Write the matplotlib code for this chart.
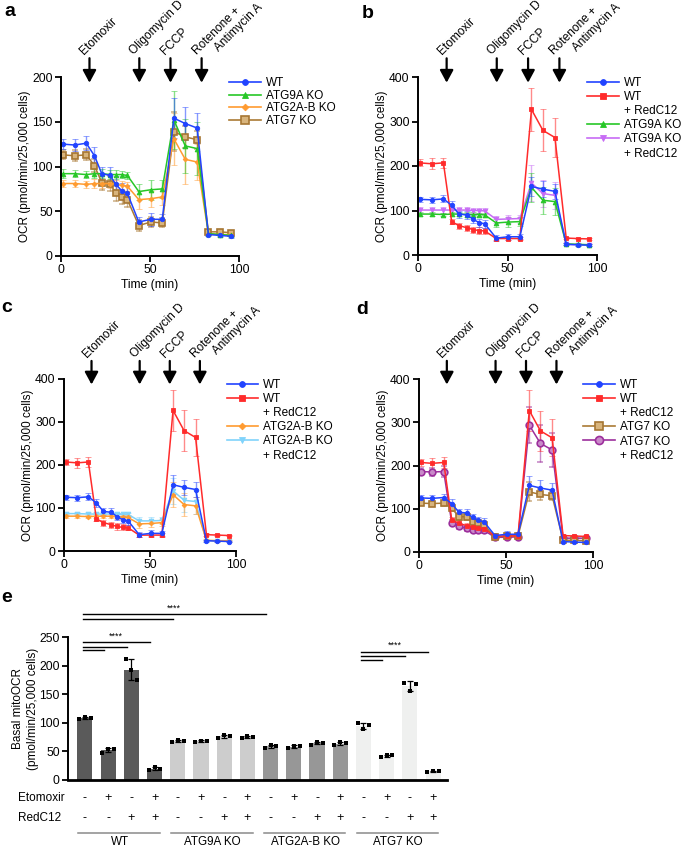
import numpy as np
import matplotlib
matplotlib.use('Agg')
import matplotlib.pyplot as plt
from matplotlib.lines import Line2D
from matplotlib.colors import to_rgba
from matplotlib.transforms import offset_copy, blended_transform_factory

plt.rcParams['font.family'] = ['Liberation Sans', 'DejaVu Sans']

# ---------------- data ----------------
time_min = [1.1, 7.6, 14.2, 18.8, 22.9, 27.6, 30.8, 34.1, 37.3,
            43.7, 50.4, 56.9, 63.4, 69.8, 76.5, 82.8, 89.2, 95.7]

wt_mean = [125, 124, 126, 112, 92, 90, 80, 73, 70, 38, 41, 41, 154, 148, 143, 24, 23, 22]
wt_sd = [6, 7, 8, 10, 8, 9, 9, 9, 9, 6, 7, 6, 22, 18, 17, 2, 2, 2]

wt_red_mean = [207, 205, 207, 75, 66, 61, 57, 55, 54, 37, 37, 37, 327, 280, 264, 38, 37, 36]
wt_red_sd = [8, 12, 12, 6, 7, 7, 7, 7, 6, 4, 4, 4, 48, 47, 43, 3, 2, 2]

atg9a_mean = [92, 92, 91, 92, 92, 91, 91, 91, 90, 72, 74, 75, 152, 123, 120, 25, 24, 23]
atg9a_sd = [5, 4, 4, 5, 5, 5, 5, 4, 4, 9, 11, 10, 32, 30, 30, 2, 2, 2]

atg9a_red_mean = [101, 101, 101, 101, 101, 101, 100, 100, 99, 80, 81, 82, 162, 138, 134, 24, 23, 23]
atg9a_red_sd = [6, 6, 6, 6, 6, 6, 6, 6, 6, 8, 9, 9, 40, 30, 30, 2, 2, 2]

atg2ab_mean = [81, 81, 80, 81, 81, 81, 80, 79, 78, 63, 64, 66, 131, 108, 105, 25, 24, 24]
atg2ab_sd = [4, 4, 4, 5, 5, 5, 5, 5, 5, 10, 9, 9, 29, 27, 20, 2, 2, 2]

atg2ab_red_mean = [87, 87, 86, 86, 86, 86, 85, 85, 85, 70, 70, 71, 140, 118, 115, 24, 24, 23]
atg2ab_red_sd = [4, 4, 4, 4, 4, 4, 4, 4, 4, 8, 8, 8, 30, 28, 28, 2, 2, 2]

atg7_mean = [113, 112, 113, 101, 82, 81, 70, 66, 63, 34, 38, 37, 139, 133, 130, 27, 27, 26]
atg7_sd = [5, 6, 6, 7, 8, 8, 8, 8, 8, 6, 6, 5, 22, 12, 10, 2, 2, 2]

atg7_red_mean = [186, 185, 186, 68, 59, 55, 52, 50, 50, 34, 34, 35, 293, 251, 236, 32, 32, 32]
atg7_red_sd = [8, 10, 12, 5, 6, 6, 6, 6, 6, 4, 4, 4, 42, 42, 40, 3, 3, 3]

drug_names = ['Etomoxir', 'Oligomycin D', 'FCCP', 'Rotenone +']
drug_second_line = ['', '', '', 'Antimycin A']
drug_times = [16, 44, 61.5, 79]

groups = ['WT', 'ATG9A KO', 'ATG2A-B KO', 'ATG7 KO']
etomoxir_flags = ['-', '+', '-', '+']
redc12_flags = ['-', '-', '+', '+']
basal_points = [
    [106, 110, 108], [48, 55, 55], [211, 192, 175], [18, 22, 20],     # WT
    [67, 70, 69], [66, 69, 68], [74, 78, 77], [73, 77, 76],           # ATG9A KO
    [56, 61, 59], [56, 60, 59], [62, 67, 65], [61, 66, 64],           # ATG2A-B KO
    [99, 89, 96], [40, 44, 43], [170, 155, 168], [14, 16, 16],        # ATG7 KO
]
bar_colors = ['#5a5a5a', '#cdcdcd', '#979797', '#eff0ef']

# ---------------- styles ----------------
styles = {
    'WT': dict(color='#2143ff', marker='o', ms=3.2, mfc='#2143ff', mec='#2143ff', mew=0.6),
    'WT+R': dict(color='#ff2b2b', marker='s', ms=3.0, mfc='#ff2b2b', mec='#ff2b2b', mew=0.6),
    'ATG9A': dict(color='#27c727', marker='^', ms=3.4, mfc='#27c727', mec='#27c727', mew=0.6),
    'ATG9A+R': dict(color='#c76cf5', marker='v', ms=3.4, mfc='#c76cf5', mec='#c76cf5', mew=0.6),
    'ATG2AB': dict(color='#ff9b30', marker='D', ms=2.4, mfc='#ff9b30', mec='#ff9b30', mew=0.6),
    'ATG2AB+R': dict(color='#80d3fb', marker='v', ms=3.4, mfc='#80d3fb', mec='#80d3fb', mew=0.6),
    'ATG7': dict(color='#aa7a35', marker='s', ms=4.5, mfc='#d8b47c', mec='#a67632', mew=1.2),
    'ATG7+R': dict(color='#9c2f9c', marker='o', ms=4.8, mfc='#c98ac9', mec='#9c2f9c', mew=1.2),
}

W, H = 685, 850
fig = plt.figure(figsize=(W / 100, H / 100), dpi=100)


def px_axes(l, t, r, b):
    return fig.add_axes([l / W, 1 - b / H, (r - l) / W, (b - t) / H])


def style_axes(ax, fs=8.7):
    for s in ['top', 'right']:
        ax.spines[s].set_visible(False)
    for s in ['left', 'bottom']:
        ax.spines[s].set_linewidth(1.4)
    ax.tick_params(direction='out', length=4, width=1.3, labelsize=fs, pad=2)


def ts_panel(ax, series, ymax, ystep, legend_entries):
    for mean, sd, key in series:
        st = styles[key]
        ax.errorbar(time_min, mean, yerr=sd, color=st['color'], lw=1.1,
                    marker=st['marker'], ms=st['ms'], mfc=st['mfc'], mec=st['mec'], mew=st['mew'],
                    ecolor=to_rgba(st['color'], 0.55), elinewidth=1, capsize=2, capthick=1)
    ax.set_xlim(0, 100)
    ax.set_ylim(0, ymax)
    ax.set_xticks([0, 50, 100])
    ax.set_yticks(np.arange(0, ymax + 1, ystep))
    style_axes(ax)
    ax.set_xlabel('Time (min)', fontsize=8.7, labelpad=2)
    ax.set_ylabel('OCR (pmol/min/25,000 cells)', fontsize=8.5, labelpad=1)
    xtr = ax.get_xaxis_transform()
    for t, name, name2 in zip(drug_times, drug_names, drug_second_line):
        ax.annotate('', xy=(t, 0.968), xycoords=xtr, xytext=(t, 1.105), textcoords=xtr,
                    arrowprops=dict(arrowstyle='-|>,head_length=0.5,head_width=0.27',
                                    color='k', lw=1.6, mutation_scale=15,
                                    shrinkA=0, shrinkB=0),
                    annotation_clip=False)
        tr = offset_copy(xtr, fig=fig, x=-5, y=3, units='dots')
        ax.text(t, 1.105, name, transform=tr, rotation=45, rotation_mode='anchor',
                ha='left', va='baseline', fontsize=8.6, clip_on=False)
        if name2:
            tr2 = offset_copy(xtr, fig=fig, x=17, y=6, units='dots')
            ax.text(t, 1.105, name2, transform=tr2, rotation=45, rotation_mode='anchor',
                    ha='left', va='baseline', fontsize=8.6, clip_on=False)
    handles, labels = [], []
    for key, lab in legend_entries:
        if key is None:
            handles.append(Line2D([], [], linestyle='none'))
        else:
            st = styles[key]
            handles.append(Line2D([], [], color=st['color'], lw=1.2, marker=st['marker'],
                                  ms=st['ms'] + 1, mfc=st['mfc'], mec=st['mec'], mew=st['mew']))
        labels.append(lab)
    spacing = 0.06 if len(legend_entries) <= 4 else 0.18
    ax.legend(handles, labels, loc='upper left', bbox_to_anchor=(0.945, 1.0),
              frameon=False, fontsize=8.5, handlelength=2.7, handletextpad=0.4,
              labelspacing=spacing, borderaxespad=0, borderpad=0)


# panel a
ax_a = px_axes(61, 77, 239, 256)
ts_panel(ax_a,
         [(atg7_mean, atg7_sd, 'ATG7'), (atg2ab_mean, atg2ab_sd, 'ATG2AB'),
          (atg9a_mean, atg9a_sd, 'ATG9A'), (wt_mean, wt_sd, 'WT')],
         200, 50,
         [('WT', 'WT'), ('ATG9A', 'ATG9A KO'), ('ATG2AB', 'ATG2A-B KO'), ('ATG7', 'ATG7 KO')])

# panel b
ax_b = px_axes(418, 77, 597, 255)
ts_panel(ax_b,
         [(atg9a_red_mean, atg9a_red_sd, 'ATG9A+R'), (atg9a_mean, atg9a_sd, 'ATG9A'),
          (wt_red_mean, wt_red_sd, 'WT+R'), (wt_mean, wt_sd, 'WT')],
         400, 100,
         [('WT', 'WT'), ('WT+R', 'WT'), (None, '+ RedC12'),
          ('ATG9A', 'ATG9A KO'), ('ATG9A+R', 'ATG9A KO'), (None, '+ RedC12')])

# panel c
ax_c = px_axes(64, 379, 236, 551)
ts_panel(ax_c,
         [(atg2ab_red_mean, atg2ab_red_sd, 'ATG2AB+R'), (atg2ab_mean, atg2ab_sd, 'ATG2AB'),
          (wt_red_mean, wt_red_sd, 'WT+R'), (wt_mean, wt_sd, 'WT')],
         400, 100,
         [('WT', 'WT'), ('WT+R', 'WT'), (None, '+ RedC12'),
          ('ATG2AB', 'ATG2A-B KO'), ('ATG2AB+R', 'ATG2A-B KO'), (None, '+ RedC12')])

# panel d
ax_d = px_axes(419, 379, 593, 552)
ts_panel(ax_d,
         [(atg7_red_mean, atg7_red_sd, 'ATG7+R'), (atg7_mean, atg7_sd, 'ATG7'),
          (wt_red_mean, wt_red_sd, 'WT+R'), (wt_mean, wt_sd, 'WT')],
         400, 100,
         [('WT', 'WT'), ('WT+R', 'WT'), (None, '+ RedC12'),
          ('ATG7', 'ATG7 KO'), ('ATG7+R', 'ATG7 KO'), (None, '+ RedC12')])

# panel e
ax_e = px_axes(68, 637, 447, 780)
n_bars = len(basal_points)
xpos = np.arange(n_bars)
pts = np.array(basal_points, dtype=float)
means = pts.mean(axis=1)
sds = pts.std(axis=1, ddof=1)
colors = [bar_colors[i // 4] for i in range(n_bars)]
ax_e.bar(xpos, means, width=0.65, color=colors, zorder=1)
ax_e.errorbar(xpos, means, yerr=sds, fmt='none', ecolor='k', elinewidth=0.9,
              capsize=2.5, capthick=0.9, zorder=3)
offsets = np.array([-0.25, 0.0, 0.25])
for i in range(n_bars):
    ax_e.scatter(xpos[i] + offsets, pts[i], marker='s', s=9, color='k', zorder=4, linewidths=0)
ax_e.set_xlim(-0.73, 15.6)
ax_e.set_ylim(0, 250)
ax_e.set_yticks(np.arange(0, 251, 50))
ax_e.set_xticks([])
style_axes(ax_e, fs=8.7)
ax_e.spines['bottom'].set_linewidth(2)
ax_e.set_ylabel('Basal mitoOCR\n(pmol/min/25,000 cells)', fontsize=8.5, labelpad=0,
                multialignment='center', linespacing=1.35)

btr = blended_transform_factory(ax_e.transData, ax_e.transAxes)
ax_e.text(-2.9, -0.126, 'Etomoxir', transform=btr, ha='left', va='center', fontsize=8.5)
ax_e.text(-2.9, -0.266, 'RedC12', transform=btr, ha='left', va='center', fontsize=8.5)
for i in range(n_bars):
    ax_e.text(xpos[i], -0.126, etomoxir_flags[i % 4], transform=btr, ha='center',
              va='center', fontsize=9)
    ax_e.text(xpos[i], -0.266, redc12_flags[i % 4], transform=btr, ha='center',
              va='center', fontsize=9)
for g, name in enumerate(groups):
    x0, x1 = 4 * g - 0.28, 4 * g + 3.22
    ax_e.plot([x0, x1], [-0.372, -0.372], color='#8a8a8a', lw=1.1, transform=btr, clip_on=False)
    ax_e.text(4 * g + 1.5, -0.39, name, transform=btr, ha='center', va='top', fontsize=8.4)

# significance brackets
sig_sets = [
    (0, [1, 2, 3], [227, 232, 241], 244),
    (0, [4, 8], [281, 290], 293),
    (12, [13, 14, 15], [210, 217, 224], 228),
]
for start, ends, ys, ytxt in sig_sets:
    for e_, y in zip(ends, ys):
        ax_e.plot([start - 0.1, e_ - 0.2], [y, y], color='k', lw=1.0, clip_on=False)
    ax_e.text((start - 0.1 + ends[-1] - 0.2) / 2, ytxt, '****', ha='center', va='bottom',
              fontsize=6.5, clip_on=False)

# panel letters
for lab, x, y in [('a', 10, 12), ('b', 368, 13), ('c', 7, 308), ('d', 362, 310), ('e', 7, 597)]:
    fig.text(x / W, 1 - y / H, lab, fontsize=14, fontweight='bold', ha='center', va='center')

fig.savefig('out.png', dpi=100)
